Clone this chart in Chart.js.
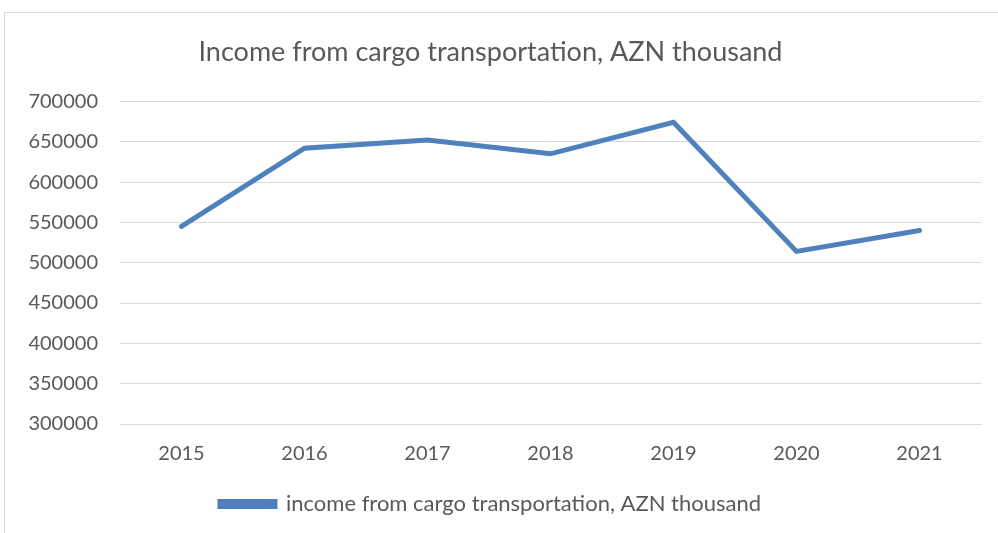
<!DOCTYPE html>
<html lang="en">
<head>
    <meta charset="UTF-8">
    <title>Income from cargo transportation</title>
    <script src="https://cdn.jsdelivr.net/npm/chart.js"></script>
    <style>
        body { margin: 0; background: #fff; }
        #wrap { position: relative; width: 998px; height: 533px; }
        #frame { position: absolute; left: 4px; top: 12px; width: 1100px; height: 600px; border: 1px solid #d9d9d9; pointer-events: none; }
    </style>
</head>
<body>
    <div id="wrap">
        <canvas id="myChart" width="998" height="533"></canvas>
        <div id="frame"></div>
    </div>

    <script>
        const years = ['2015', '2016', '2017', '2018', '2019', '2020', '2021'];
        const income = [545000, 642000, 652000, 635000, 674000, 514000, 540000];
        const seriesName = 'income from cargo transportation, AZN thousand';
        const chartTitle = 'Income from cargo transportation, AZN thousand';

        const lineColor = '#4f81bd';
        const textColor = '#595959';
        const gridColor = '#d9d9d9';
        const fontFamily = 'Lato, "Open Sans", sans-serif';

        const ctx = document.getElementById('myChart').getContext('2d');

        new Chart(ctx, {
            type: 'line',
            data: {
                labels: years,
                datasets: [{
                    label: seriesName,
                    data: income,
                    borderColor: lineColor,
                    backgroundColor: lineColor,
                    borderWidth: 5,
                    borderCapStyle: 'round',
                    pointRadius: 0,
                    tension: 0
                }]
            },
            options: {
                responsive: false,
                animation: false,
                layout: {
                    padding: { top: 12, left: 0, right: 17, bottom: 8 }
                },
                scales: {
                    x: {
                        offset: true,
                        grid: { display: false },
                        border: { color: gridColor },
                        ticks: { color: textColor, font: { family: fontFamily, size: 20 }, padding: 10 }
                    },
                    y: {
                        min: 300000,
                        max: 700000,
                        afterFit: function(scale) { scale.width = 120; },
                        grid: { color: gridColor, drawTicks: false },
                        border: { display: false },
                        ticks: {
                            stepSize: 50000,
                            color: textColor,
                            font: { family: fontFamily, size: 20 },
                            padding: 22,
                            callback: function(value) { return String(value); }
                        }
                    }
                },
                plugins: {
                    title: {
                        display: true,
                        text: chartTitle,
                        color: textColor,
                        font: { family: fontFamily, size: 27, weight: 'normal' },
                        padding: { top: 24, bottom: 33 }
                    },
                    legend: {
                        position: 'bottom',
                        labels: {
                            color: textColor,
                            font: { family: fontFamily, size: 22 },
                            boxWidth: 55,
                            boxHeight: 5,
                            padding: 17
                        }
                    },
                    tooltip: { enabled: false }
                }
            }
        });
    </script>
</body>
</html>
